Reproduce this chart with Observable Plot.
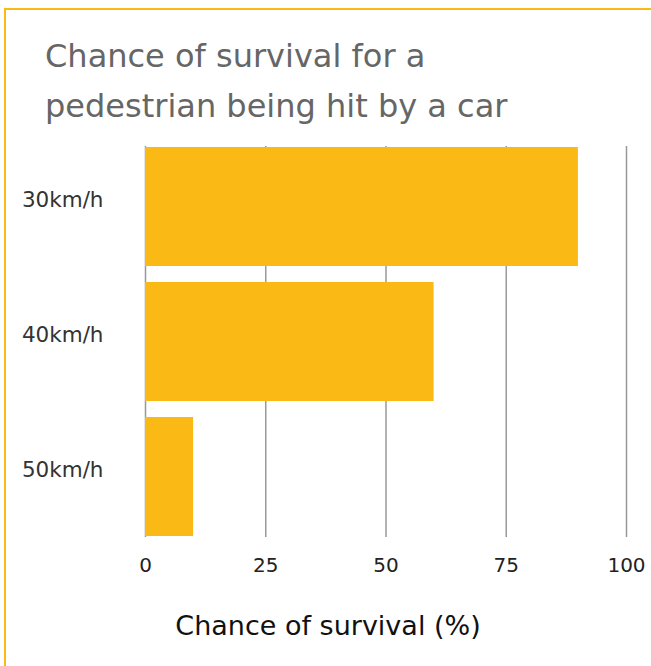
<!DOCTYPE html>
<html>
<head>
<meta charset="utf-8">
<script src="https://cdn.jsdelivr.net/npm/d3@7"></script>
<script src="https://cdn.jsdelivr.net/npm/@observablehq/plot@0.6"></script>
<style>
  html, body { margin: 0; padding: 0; background: #fff; }
  #frame { position: relative; width: 651px; height: 666px; overflow: hidden; font-family: "DejaVu Sans", sans-serif; }
  #border { position: absolute; left: 4px; top: 8px; width: 660px; height: 700px; border-top: 2px solid #fbb916; border-left: 2px solid #fbb916; }
  #title { position: absolute; left: 45px; top: 31px; font-size: 32px; line-height: 50px; color: #666; font-weight: 400; margin: 0; white-space: nowrap; }
  #chart { position: absolute; left: 0; top: 140px; }
</style>
</head>
<body>
<div id="frame">
  <div id="border"></div>
  <h2 id="title">Chance of survival for a<br>pedestrian being hit by a car</h2>
  <div id="chart"></div>
</div>
<script>
const speeds = ["30km/h", "40km/h", "50km/h"];
const survival = [90, 60, 10];
const xTicks = [0, 25, 50, 75, 100];
const xLabel = "Chance of survival (%)";

const data = speeds.map((s, i) => ({speed: s, value: survival[i]}));

const chart = Plot.plot({
  width: 651,
  height: 526,
  marginLeft: 145,
  marginRight: 25,
  marginTop: 6,
  marginBottom: 129,
  style: {fontFamily: "'DejaVu Sans', sans-serif", background: "transparent"},
  x: {domain: [0, 100], ticks: xTicks, label: null},
  y: {domain: speeds, paddingInner: 0.12, paddingOuter: 0, label: null},
  marks: [
    Plot.ruleX(xTicks, {stroke: "#999", strokeWidth: 1.5}),
    Plot.barX(data, {x: "value", y: "speed", fill: "#fbb916"}),
    Plot.axisX({ticks: xTicks, tickSize: 0, tickPadding: 20, fontSize: 20, fill: "#222", label: null}),
    Plot.axisY({tickSize: 0, tickPadding: 42, fontSize: 21.5, fill: "#333", dy: -7, label: null}),
    Plot.text([xLabel], {frameAnchor: "bottom", dx: -58, dy: 97, fontSize: 27, fill: "#111"})
  ]
});
document.getElementById("chart").appendChild(chart);
</script>
</body>
</html>
